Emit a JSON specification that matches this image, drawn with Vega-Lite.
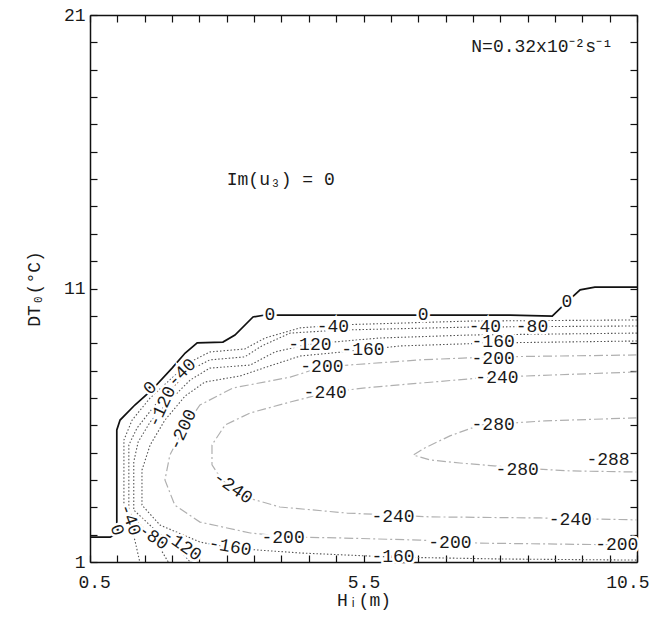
{
  "$schema": "https://vega.github.io/schema/vega-lite/v6.json",
  "width": 547,
  "height": 547,
  "autosize": {"type": "none"},
  "padding": {"left": 90, "top": 15, "right": 19, "bottom": 69},
  "background": "white",
  "config": {
    "view": {"stroke": null},
    "text": {"font": "Liberation Mono", "fontSize": 18, "fill": "#1a1a1a"},
    "axis": {
      "domainColor": "#111", "domainWidth": 1.5,
      "tickColor": "#111", "tickWidth": 1.2, "tickSize": -7,
      "labelFont": "Liberation Mono", "labelFontSize": 18, "labelColor": "#1a1a1a",
      "titleFont": "Liberation Mono", "titleFontSize": 18, "titleFontWeight": "normal", "titleColor": "#1a1a1a",
      "grid": false, "zindex": 1, "labelOverlap": false
    }
  },
  "datasets": {
    "contours": [
      {"c":0,"x":0.5,"y":1.91},{"c":0,"x":0.87,"y":1.91},{"c":0,"x":0.96,"y":2.02},{"c":0,"x":0.99,"y":2.24},{"c":0,"x":0.99,"y":5.83},{"c":0,"x":1.05,"y":6.19},{"c":0,"x":1.32,"y":6.74},{"c":0,"x":1.63,"y":7.29},{"c":0,"x":2.0,"y":8.09},{"c":0,"x":2.24,"y":8.64},{"c":0,"x":2.46,"y":9.01},{"c":0,"x":2.93,"y":9.04},{"c":0,"x":3.15,"y":9.3},{"c":0,"x":3.48,"y":9.96},{"c":0,"x":3.7,"y":10.03},{"c":0,"x":6.59,"y":10.03},{"c":0,"x":8.18,"y":10.03},{"c":0,"x":8.95,"y":9.99},{"c":0,"x":9.22,"y":10.51},{"c":0,"x":9.46,"y":10.95},{"c":0,"x":9.73,"y":11.05},{"c":0,"x":10.5,"y":11.05},
      {"c":-40,"x":10.5,"y":9.85},{"c":-40,"x":7.45,"y":9.81},{"c":-40,"x":5.07,"y":9.67},{"c":-40,"x":4.34,"y":9.56},{"c":-40,"x":3.7,"y":9.19},{"c":-40,"x":3.33,"y":8.79},{"c":-40,"x":2.69,"y":8.68},{"c":-40,"x":2.33,"y":8.31},{"c":-40,"x":2.0,"y":7.73},{"c":-40,"x":1.6,"y":7.0},{"c":-40,"x":1.27,"y":6.19},{"c":-40,"x":1.12,"y":5.46},{"c":-40,"x":1.12,"y":3.08},{"c":-40,"x":1.19,"y":2.54},{"c":-40,"x":1.32,"y":1.8},{"c":-40,"x":1.41,"y":1.0},
      {"c":-80,"x":10.5,"y":9.63},{"c":-80,"x":7.45,"y":9.59},{"c":-80,"x":5.07,"y":9.48},{"c":-80,"x":4.16,"y":9.37},{"c":-80,"x":3.64,"y":8.9},{"c":-80,"x":3.33,"y":8.5},{"c":-80,"x":2.69,"y":8.39},{"c":-80,"x":2.33,"y":8.02},{"c":-80,"x":2.0,"y":7.36},{"c":-80,"x":1.69,"y":6.74},{"c":-80,"x":1.36,"y":5.9},{"c":-80,"x":1.21,"y":5.28},{"c":-80,"x":1.21,"y":2.83},{"c":-80,"x":1.51,"y":2.17},{"c":-80,"x":1.78,"y":1.51},{"c":-80,"x":1.93,"y":1.0},
      {"c":-120,"x":10.5,"y":9.37},{"c":-120,"x":7.45,"y":9.3},{"c":-120,"x":5.8,"y":9.19},{"c":-120,"x":4.52,"y":8.97},{"c":-120,"x":3.88,"y":8.68},{"c":-120,"x":3.43,"y":8.2},{"c":-120,"x":2.69,"y":8.09},{"c":-120,"x":2.33,"y":7.65},{"c":-120,"x":1.93,"y":6.85},{"c":-120,"x":1.6,"y":6.12},{"c":-120,"x":1.38,"y":5.39},{"c":-120,"x":1.3,"y":4.66},{"c":-120,"x":1.3,"y":2.9},{"c":-120,"x":1.69,"y":2.17},{"c":-120,"x":2.11,"y":1.51},{"c":-120,"x":2.33,"y":1.0},
      {"c":-160,"x":10.5,"y":9.08},{"c":-160,"x":7.87,"y":9.01},{"c":-160,"x":6.17,"y":8.9},{"c":-160,"x":5.49,"y":8.75},{"c":-160,"x":4.34,"y":8.53},{"c":-160,"x":3.79,"y":8.17},{"c":-160,"x":3.24,"y":7.8},{"c":-160,"x":2.6,"y":7.58},{"c":-160,"x":2.24,"y":7.07},{"c":-160,"x":1.87,"y":6.19},{"c":-160,"x":1.6,"y":5.28},{"c":-160,"x":1.45,"y":4.36},{"c":-160,"x":1.45,"y":3.08},{"c":-160,"x":1.78,"y":2.35},{"c":-160,"x":2.51,"y":1.73},{"c":-160,"x":3.06,"y":1.51},{"c":-160,"x":4.34,"y":1.33},{"c":-160,"x":6.04,"y":1.18},{"c":-160,"x":8.0,"y":1.11},{"c":-160,"x":10.5,"y":1.07},
      {"c":-200,"x":10.5,"y":8.57},{"c":-200,"x":7.87,"y":8.5},{"c":-200,"x":6.53,"y":8.39},{"c":-200,"x":4.74,"y":8.13},{"c":-200,"x":4.16,"y":7.76},{"c":-200,"x":3.11,"y":7.36},{"c":-200,"x":2.51,"y":6.74},{"c":-200,"x":2.2,"y":5.83},{"c":-200,"x":1.96,"y":4.91},{"c":-200,"x":1.87,"y":4.0},{"c":-200,"x":2.05,"y":3.08},{"c":-200,"x":2.51,"y":2.46},{"c":-200,"x":3.43,"y":2.06},{"c":-200,"x":4.16,"y":1.91},{"c":-200,"x":5.07,"y":1.88},{"c":-200,"x":6.53,"y":1.8},{"c":-200,"x":7.63,"y":1.69},{"c":-200,"x":10.5,"y":1.62},
      {"c":-240,"x":10.5,"y":7.95},{"c":-240,"x":8.45,"y":7.8},{"c":-240,"x":7.63,"y":7.73},{"c":-240,"x":5.49,"y":7.36},{"c":-240,"x":4.8,"y":7.18},{"c":-240,"x":4.16,"y":6.85},{"c":-240,"x":3.43,"y":6.45},{"c":-240,"x":2.97,"y":6.01},{"c":-240,"x":2.73,"y":5.28},{"c":-240,"x":2.73,"y":4.55},{"c":-240,"x":2.91,"y":4.0},{"c":-240,"x":3.33,"y":3.38},{"c":-240,"x":3.97,"y":3.01},{"c":-240,"x":5.2,"y":2.79},{"c":-240,"x":6.72,"y":2.65},{"c":-240,"x":8.73,"y":2.61},{"c":-240,"x":10.5,"y":2.54},
      {"c":-280,"x":10.5,"y":6.27},{"c":-280,"x":8.82,"y":6.16},{"c":-280,"x":7.63,"y":6.01},{"c":-280,"x":7.08,"y":5.61},{"c":-280,"x":6.62,"y":5.17},{"c":-280,"x":6.41,"y":4.91},{"c":-280,"x":6.72,"y":4.73},{"c":-280,"x":7.26,"y":4.62},{"c":-280,"x":8.31,"y":4.44},{"c":-280,"x":9.28,"y":4.33},{"c":-280,"x":10.5,"y":4.29}
    ],
    "labelsFlat": [
      {"t":"0","x":3.79,"y":10.03},{"t":"0","x":6.59,"y":10.03},{"t":"0","x":9.22,"y":10.51},
      {"t":"-40","x":4.94,"y":9.59},{"t":"-40","x":7.72,"y":9.59},{"t":"-80","x":8.58,"y":9.59},
      {"t":"-120","x":4.52,"y":8.93},{"t":"-160","x":5.49,"y":8.75},{"t":"-160","x":7.87,"y":9.05},
      {"t":"-200","x":4.74,"y":8.13},{"t":"-200","x":7.87,"y":8.42},
      {"t":"-240","x":4.8,"y":7.18},{"t":"-240","x":7.94,"y":7.73},
      {"t":"-280","x":7.87,"y":6.01},{"t":"-280","x":8.31,"y":4.36},{"t":"-288","x":9.97,"y":4.73},
      {"t":"-240","x":6.04,"y":2.65},{"t":"-240","x":9.28,"y":2.54},
      {"t":"-200","x":4.03,"y":1.88},{"t":"-200","x":7.08,"y":1.69},{"t":"-200","x":10.13,"y":1.62},
      {"t":"-160","x":6.04,"y":1.18}
    ],
    "labelsRise45": [{"t":"0","x":1.6,"y":7.36},{"t":"-40","x":2.18,"y":7.91}],
    "labelsRise65": [{"t":"-120","x":1.82,"y":6.67},{"t":"-200","x":2.2,"y":5.83}],
    "labelsFall35": [{"t":"-240","x":3.11,"y":3.71},{"t":"-80","x":1.65,"y":1.91},{"t":"-120","x":2.18,"y":1.62}],
    "labelsFall70": [{"t":"0","x":0.99,"y":2.17},{"t":"-40","x":1.23,"y":2.54}],
    "labelsFall10": [{"t":"-160","x":3.06,"y":1.55}],
    "noteLeft": [{"t":"Im(u₃) = 0","x":3.0,"y":14.97}],
    "noteRight": [{"t":"N=0.32x10⁻²s⁻¹","x":10.06,"y":19.83}]
  },
  "resolve": {"axis": {"x": "independent", "y": "independent"}},
  "layer": [
    {
      "data": {"name": "contours"},
      "transform": [{"filter": "datum.c == 0"}],
      "mark": {"type": "line", "color": "#111", "strokeWidth": 1.7},
      "encoding": {
        "x": {"field": "x", "type": "quantitative", "scale": {"domain": [0.5, 10.5], "nice": false, "zero": false},
          "axis": {"orient": "bottom", "values": [0.5,1,1.5,2,2.5,3,3.5,4,4.5,5,5.5,6,6.5,7,7.5,8,8.5,9,9.5,10,10.5],
            "format": ".1f", "labelExpr": "(datum.value == 0.5 || datum.value == 5.5 || datum.value == 10.5) ? datum.label : ''",
            "labelPadding": 18, "labelFlush": true, "labelFlushOffset": 12, "title": "Hᵢ(m)", "titlePadding": 0}},
        "y": {"field": "y", "type": "quantitative", "scale": {"domain": [1, 21], "nice": false, "zero": false},
          "axis": {"orient": "left", "values": [1,2,3,4,5,6,7,8,9,10,11,12,13,14,15,16,17,18,19,20,21],
            "format": "d", "labelExpr": "(datum.value == 1 || datum.value == 11 || datum.value == 21) ? datum.label : ''",
            "labelPadding": 12, "labelFlush": false, "title": "DT₀(°C)", "titlePadding": 20}},
        "order": {"value": null}
      }
    },
    {
      "data": {"name": "contours"},
      "transform": [{"filter": "datum.c < 0 && datum.c > -200"}],
      "mark": {"type": "line", "color": "#555", "strokeWidth": 1.1, "strokeDash": [1.5, 2]},
      "encoding": {
        "x": {"field": "x", "type": "quantitative", "scale": {"domain": [0.5, 10.5], "nice": false, "zero": false},
          "axis": {"orient": "top", "values": [0.5,1,1.5,2,2.5,3,3.5,4,4.5,5,5.5,6,6.5,7,7.5,8,8.5,9,9.5,10,10.5], "labels": false, "title": null}},
        "y": {"field": "y", "type": "quantitative", "scale": {"domain": [1, 21], "nice": false, "zero": false},
          "axis": {"orient": "right", "values": [1,2,3,4,5,6,7,8,9,10,11,12,13,14,15,16,17,18,19,20,21], "labels": false, "title": null}},
        "detail": {"field": "c", "type": "nominal"},
        "order": {"value": null}
      }
    },
    {
      "data": {"name": "contours"},
      "transform": [{"filter": "datum.c <= -200"}],
      "mark": {"type": "line", "color": "#b0b0b0", "strokeWidth": 1.2, "strokeDash": [9, 3, 2, 3]},
      "encoding": {
        "x": {"field": "x", "type": "quantitative", "axis": null},
        "y": {"field": "y", "type": "quantitative", "axis": null},
        "detail": {"field": "c", "type": "nominal"},
        "order": {"value": null}
      }
    },
    {
      "data": {"name": "labelsFlat"},
      "encoding": {"x": {"field": "x", "type": "quantitative", "axis": null}, "y": {"field": "y", "type": "quantitative", "axis": null}, "text": {"field": "t"}},
      "layer": [
        {"mark": {"type": "text", "stroke": "white", "strokeWidth": 5, "fill": "white"}},
        {"mark": {"type": "text"}}
      ]
    },
    {
      "data": {"name": "labelsRise45"},
      "encoding": {"x": {"field": "x", "type": "quantitative", "axis": null}, "y": {"field": "y", "type": "quantitative", "axis": null}, "text": {"field": "t"}},
      "layer": [
        {"mark": {"type": "text", "angle": -45, "stroke": "white", "strokeWidth": 5, "fill": "white"}},
        {"mark": {"type": "text", "angle": -45}}
      ]
    },
    {
      "data": {"name": "labelsRise65"},
      "encoding": {"x": {"field": "x", "type": "quantitative", "axis": null}, "y": {"field": "y", "type": "quantitative", "axis": null}, "text": {"field": "t"}},
      "layer": [
        {"mark": {"type": "text", "angle": -65, "stroke": "white", "strokeWidth": 5, "fill": "white"}},
        {"mark": {"type": "text", "angle": -65}}
      ]
    },
    {
      "data": {"name": "labelsFall35"},
      "encoding": {"x": {"field": "x", "type": "quantitative", "axis": null}, "y": {"field": "y", "type": "quantitative", "axis": null}, "text": {"field": "t"}},
      "layer": [
        {"mark": {"type": "text", "angle": 35, "stroke": "white", "strokeWidth": 5, "fill": "white"}},
        {"mark": {"type": "text", "angle": 35}}
      ]
    },
    {
      "data": {"name": "labelsFall70"},
      "encoding": {"x": {"field": "x", "type": "quantitative", "axis": null}, "y": {"field": "y", "type": "quantitative", "axis": null}, "text": {"field": "t"}},
      "layer": [
        {"mark": {"type": "text", "angle": 70, "stroke": "white", "strokeWidth": 5, "fill": "white"}},
        {"mark": {"type": "text", "angle": 70}}
      ]
    },
    {
      "data": {"name": "labelsFall10"},
      "encoding": {"x": {"field": "x", "type": "quantitative", "axis": null}, "y": {"field": "y", "type": "quantitative", "axis": null}, "text": {"field": "t"}},
      "layer": [
        {"mark": {"type": "text", "angle": 10, "stroke": "white", "strokeWidth": 5, "fill": "white"}},
        {"mark": {"type": "text", "angle": 10}}
      ]
    },
    {
      "data": {"name": "noteLeft"},
      "mark": {"type": "text", "align": "left"},
      "encoding": {"x": {"field": "x", "type": "quantitative", "axis": null}, "y": {"field": "y", "type": "quantitative", "axis": null}, "text": {"field": "t"}}
    },
    {
      "data": {"name": "noteRight"},
      "mark": {"type": "text", "align": "right"},
      "encoding": {"x": {"field": "x", "type": "quantitative", "axis": null}, "y": {"field": "y", "type": "quantitative", "axis": null}, "text": {"field": "t"}}
    }
  ]
}
